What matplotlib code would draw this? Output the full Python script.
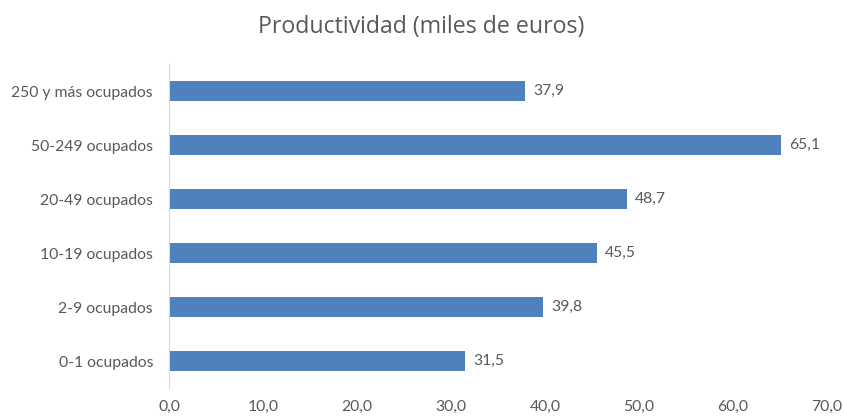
import numpy as np
from matplotlib import pyplot as plt

categorias = ['0-1 ocupados', '2-9 ocupados', '10-19 ocupados',
              '20-49 ocupados', '50-249 ocupados', '250 y más ocupados']
productividad = [31.5, 39.8, 45.5, 48.7, 65.1, 37.9]
xticks = [0, 10, 20, 30, 40, 50, 60, 70]

gris = '#595959'

fig = plt.figure(figsize=(8.43, 4.19), dpi=100)
ax = fig.add_axes([0.2005, 0.074, 0.7805, 0.773])

y = np.arange(len(categorias))
ax.barh(y, productividad, height=0.37, color='#4F81BD')

for yi, v in zip(y, productividad):
    ax.text(v + 0.9, yi, ('%.1f' % v).replace('.', ','), va='center', ha='left',
            fontsize=11.3, color=gris, family='Lato')

ax.set_xlim(0, 70)
ax.set_ylim(-0.5, len(categorias) - 0.5)
ax.set_xticks(xticks)
ax.set_xticklabels([('%.1f' % t).replace('.', ',') for t in xticks],
                   fontsize=11.3, color=gris, family='Lato')
ax.set_yticks(y)
ax.set_yticklabels(categorias, fontsize=11.3, color=gris, family='Lato')
ax.tick_params(axis='both', length=0)
ax.tick_params(axis='x', pad=8.5)
ax.tick_params(axis='y', pad=11.5)

for s in ['top', 'right', 'bottom']:
    ax.spines[s].set_visible(False)
ax.spines['left'].set_color('#D9D9D9')

fig.text(0.5, 0.935, 'Productividad (miles de euros)', ha='center', va='center',
         fontsize=16.7, color=gris, family='Open Sans')

plt.savefig('out.png', dpi=100)
